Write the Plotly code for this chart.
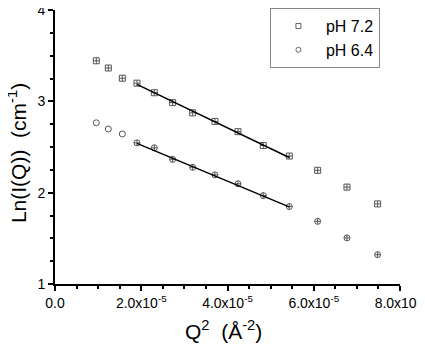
import plotly.graph_objects as go

# Data
q2 = [0.958e-5, 1.236e-5, 1.561e-5, 1.901e-5, 2.303e-5, 2.728e-5, 3.192e-5,
      3.709e-5, 4.243e-5, 4.830e-5, 5.433e-5, 6.090e-5, 6.770e-5, 7.481e-5]
ln_i_72 = [3.444, 3.365, 3.253, 3.199, 3.094, 2.986, 2.874,
           2.780, 2.668, 2.516, 2.401, 2.245, 2.061, 1.877]
ln_i_64 = [2.765, 2.697, 2.643, 2.545, 2.491, 2.365, 2.278,
           2.195, 2.097, 1.968, 1.848, 1.686, 1.505, 1.321]

fit_x = [1.90e-5, 5.43e-5]
fit_72 = [3.185, 2.385]
fit_64 = [2.540, 1.845]

x_tickvals = [0, 2e-5, 4e-5, 6e-5, 8e-5]
x_ticktext = ["0.0", "2.0x10<sup>-5</sup>", "4.0x10<sup>-5</sup>",
              "6.0x10<sup>-5</sup>", "8.0x10<sup>-5</sup>"]
y_tickvals = [1, 2, 3, 4]

x_title = "Q<sup>2</sup>\u00a0\u00a0(Å<sup>-2</sup>)"
y_title = "Ln(I(Q))\u00a0\u00a0(cm<sup>-1</sup>)"

# Styles
sym_72 = ["square-cross-open"] * len(q2)
sym_64 = ["circle-open"] * 3 + ["circle-cross-open"] * (len(q2) - 3)
mcol = "#555555"
FONT = "Liberation Sans, Arial, sans-serif"

fig = go.Figure()
fig.add_trace(go.Scatter(x=q2, y=ln_i_72, mode="markers", showlegend=False,
                         marker=dict(symbol=sym_72, size=6, color=mcol,
                                     line=dict(width=1, color=mcol))))
fig.add_trace(go.Scatter(x=q2, y=ln_i_64, mode="markers", showlegend=False,
                         marker=dict(symbol=sym_64, size=6, color=mcol,
                                     line=dict(width=1, color=mcol))))
fig.add_trace(go.Scatter(x=fit_x, y=fit_72, mode="lines", showlegend=False,
                         line=dict(color="black", width=1.5)))
fig.add_trace(go.Scatter(x=fit_x, y=fit_64, mode="lines", showlegend=False,
                         line=dict(color="black", width=1.5)))
# legend entries
fig.add_trace(go.Scatter(x=[None], y=[None], mode="markers", name="pH 7.2",
                         marker=dict(symbol="square-open", size=5, color="#666666",
                                     line=dict(width=1, color="#666666"))))
fig.add_trace(go.Scatter(x=[None], y=[None], mode="markers", name="pH 6.4",
                         marker=dict(symbol="circle-open", size=5, color="#666666",
                                     line=dict(width=1, color="#666666"))))

fig.update_layout(
    width=425, height=345,
    margin=dict(l=47, r=33, t=0, b=69),
    plot_bgcolor="white", paper_bgcolor="white",
    font=dict(family=FONT, color="black"),
    legend=dict(x=0.623, y=1.007, xanchor="left", yanchor="top",
                bordercolor="#888888", borderwidth=1, bgcolor="white",
                font=dict(size=16, family=FONT), itemwidth=45,
                tracegroupgap=0),
    annotations=[
        dict(text=x_title, xref="paper", yref="paper", x=0.487, y=-0.167,
             xanchor="center", yanchor="middle", showarrow=False,
             font=dict(size=21)),
        dict(text=y_title, xref="paper", yref="paper", x=-0.110, y=0.478,
             xanchor="center", yanchor="middle", showarrow=False, textangle=-90,
             font=dict(size=21)),
    ],
)
fig.update_xaxes(
    range=[0, 8e-5], tickvals=x_tickvals, ticktext=x_ticktext, automargin=False,
    ticklabeloverflow="allow",
    showgrid=False, zeroline=False, showline=True, linecolor="black", linewidth=2,
    ticks="outside", ticklen=5, tickwidth=1.5, tickcolor="black",
    tickfont=dict(size=14),
    minor=dict(dtick=0.5e-5, tick0=0, ticks="outside", ticklen=3, tickwidth=1.5,
               tickcolor="black", showgrid=False),
)
fig.update_yaxes(
    range=[1, 4], tickvals=y_tickvals, automargin=False,
    ticklabeloverflow="allow",
    showgrid=False, zeroline=False, showline=True, linecolor="black", linewidth=2,
    ticks="outside", ticklen=5, tickwidth=1.5, tickcolor="black",
    tickfont=dict(size=14),
    minor=dict(dtick=0.25, tick0=1, ticks="outside", ticklen=3, tickwidth=1.5,
               tickcolor="black", showgrid=False),
)

fig.write_html("out.html")
